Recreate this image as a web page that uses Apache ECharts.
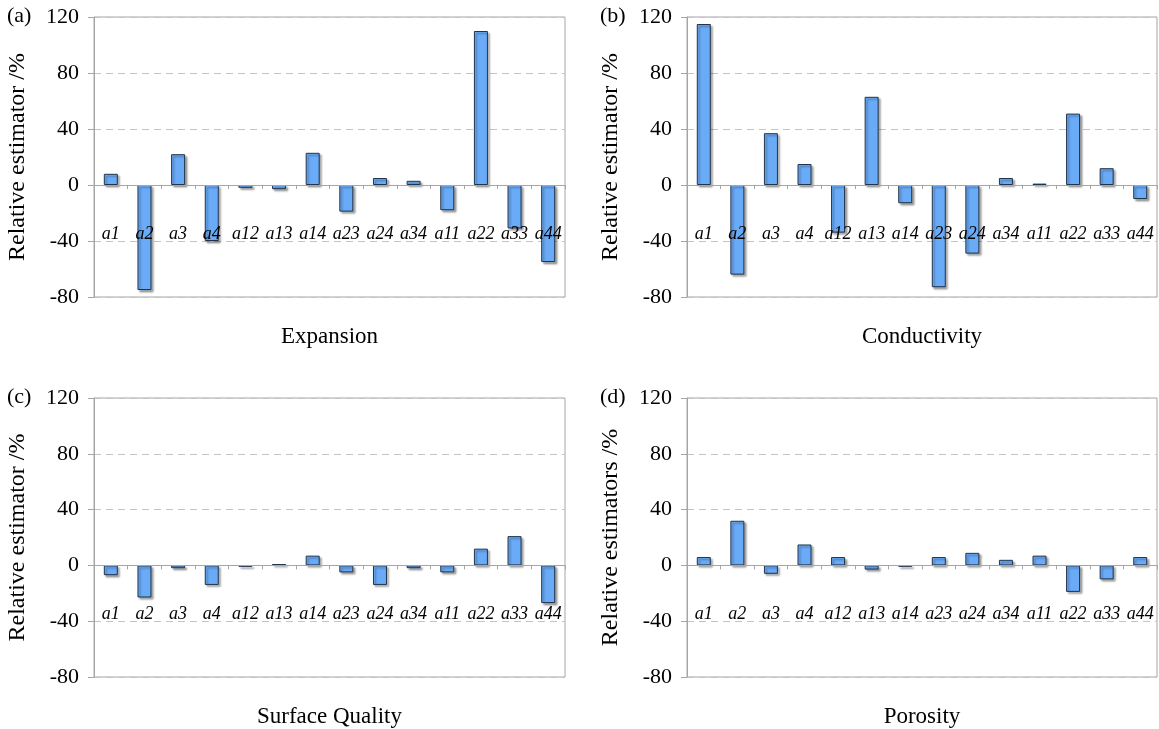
<!DOCTYPE html>
<html>
<head>
    <meta charset="utf-8">
    <title>Relative estimators</title>
    <style>
        html, body{
            margin: 0;
            padding: 0;
            background: #fff;
        }
        #container{
            width: 1159px;
            height: 729px;
        }
    </style>
</head>
<body>
    <div id="container"></div>

    <script src="https://cdn.jsdelivr.net/npm/echarts@6/dist/echarts.min.js"></script>
    <script type="text/javascript">
    // categories (coefficients)
    var categories = ['a1', 'a2', 'a3', 'a4', 'a12', 'a13', 'a14', 'a23', 'a24', 'a34', 'a11', 'a22', 'a33', 'a44'];

    // values, in %
    var expansion      = [8, -75, 22, -40, -2, -3, 23, -19, 5, 3, -18, 110, -31, -55];
    var conductivity   = [115, -64, 37, 15, -34, 63, -13, -73, -49, 5, 1, 51, 12, -10];
    var surfaceQuality = [-7, -23, -2, -14, -1, 1, 7, -5, -14, -2, -5, 12, 21, -27];
    var porosity       = [6, 32, -6, 15, 6, -3, -1, 6, 9, 4, 7, -19, -10, 6];

    var panelTags   = ['(a)', '(b)', '(c)', '(d)'];
    var panelTitles = ['Expansion', 'Conductivity', 'Surface Quality', 'Porosity'];
    var yNames      = ['Relative estimator /%', 'Relative estimator /%', 'Relative estimator /%', 'Relative estimators /%'];
    var yTicks      = [-80, -40, 0, 40, 80, 120];

    var seriesData = [expansion, conductivity, surfaceQuality, porosity];

    var FONT = '"Liberation Serif", "Times New Roman", serif';
    var GRAY = '#a6a6a6';

    // plot rectangles of the four panels
    var boxes = [
        {left: 94,  top: 17,  width: 471, height: 280},
        {left: 687, top: 17,  width: 470, height: 280},
        {left: 94,  top: 398, width: 471, height: 279},
        {left: 687, top: 398, width: 470, height: 279}
    ];

    var yMin = yTicks[0], yMax = yTicks[yTicks.length - 1];

    var grid = [], xAxis = [], yAxis = [], series = [], graphic = [];

    for (var i = 0; i < 4; i++) {
        var b = boxes[i];
        // distance from the bottom of the plot up to the zero line
        var zeroUp = b.height * (0 - yMin) / (yMax - yMin);

        grid.push({
            left: b.left, top: b.top, width: b.width, height: b.height,
            show: true, borderColor: GRAY, borderWidth: 1, backgroundColor: '#fff'
        });
        xAxis.push({
            type: 'category',
            gridIndex: i,
            data: categories,
            position: 'bottom',
            offset: -zeroUp,
            z: 10,
            axisLine: {onZero: false, lineStyle: {color: GRAY, width: 1}},
            axisTick: {show: true, length: 4, lineStyle: {color: GRAY}},
            axisLabel: {
                margin: 40, color: '#000', fontFamily: FONT, fontStyle: 'italic',
                fontSize: 18, interval: 0
            },
            splitLine: {show: false}
        });
        yAxis.push({
            type: 'value',
            gridIndex: i,
            min: yMin, max: yMax, interval: 40,
            name: yNames[i],
            nameLocation: 'middle',
            nameGap: 64,
            nameTextStyle: {fontFamily: FONT, fontSize: 24, color: '#000'},
            axisLine: {show: true, lineStyle: {color: GRAY}},
            axisTick: {show: true, length: 6, lineStyle: {color: GRAY}},
            axisLabel: {margin: 15, color: '#000', fontFamily: FONT, fontSize: 22},
            splitLine: {show: true, lineStyle: {color: '#c4c4c4', type: [7, 5]}}
        });
        series.push({
            type: 'bar',
            xAxisIndex: i,
            yAxisIndex: i,
            data: seriesData[i],
            barWidth: 14,
            itemStyle: {
                color: '#6aabf7',
                borderColor: '#22344a',
                borderWidth: 1,
                shadowColor: 'rgba(0,0,0,0.35)',
                shadowBlur: 2,
                shadowOffsetX: 2,
                shadowOffsetY: 2
            }
        });
        // panel tag, e.g. (a)
        graphic.push({
            type: 'text',
            left: b.left - 87, top: b.top - 12,
            style: {text: panelTags[i], fontFamily: FONT, fontSize: 22, fill: '#000'}
        });
        // variable name under each panel
        graphic.push({
            type: 'text',
            x: b.left + b.width / 2, y: b.top + b.height + 40,
            style: {
                text: panelTitles[i], fontFamily: FONT, fontSize: 23, fill: '#000',
                align: 'center', verticalAlign: 'middle'
            }
        });
    }

    var myChart = echarts.init(document.getElementById('container'), null, {renderer: 'canvas'});
    var option = {
        backgroundColor: '#fff',
        animation: false,
        grid: grid,
        xAxis: xAxis,
        yAxis: yAxis,
        series: series,
        graphic: graphic
    };
    myChart.setOption(option);
    </script>
</body>
</html>
